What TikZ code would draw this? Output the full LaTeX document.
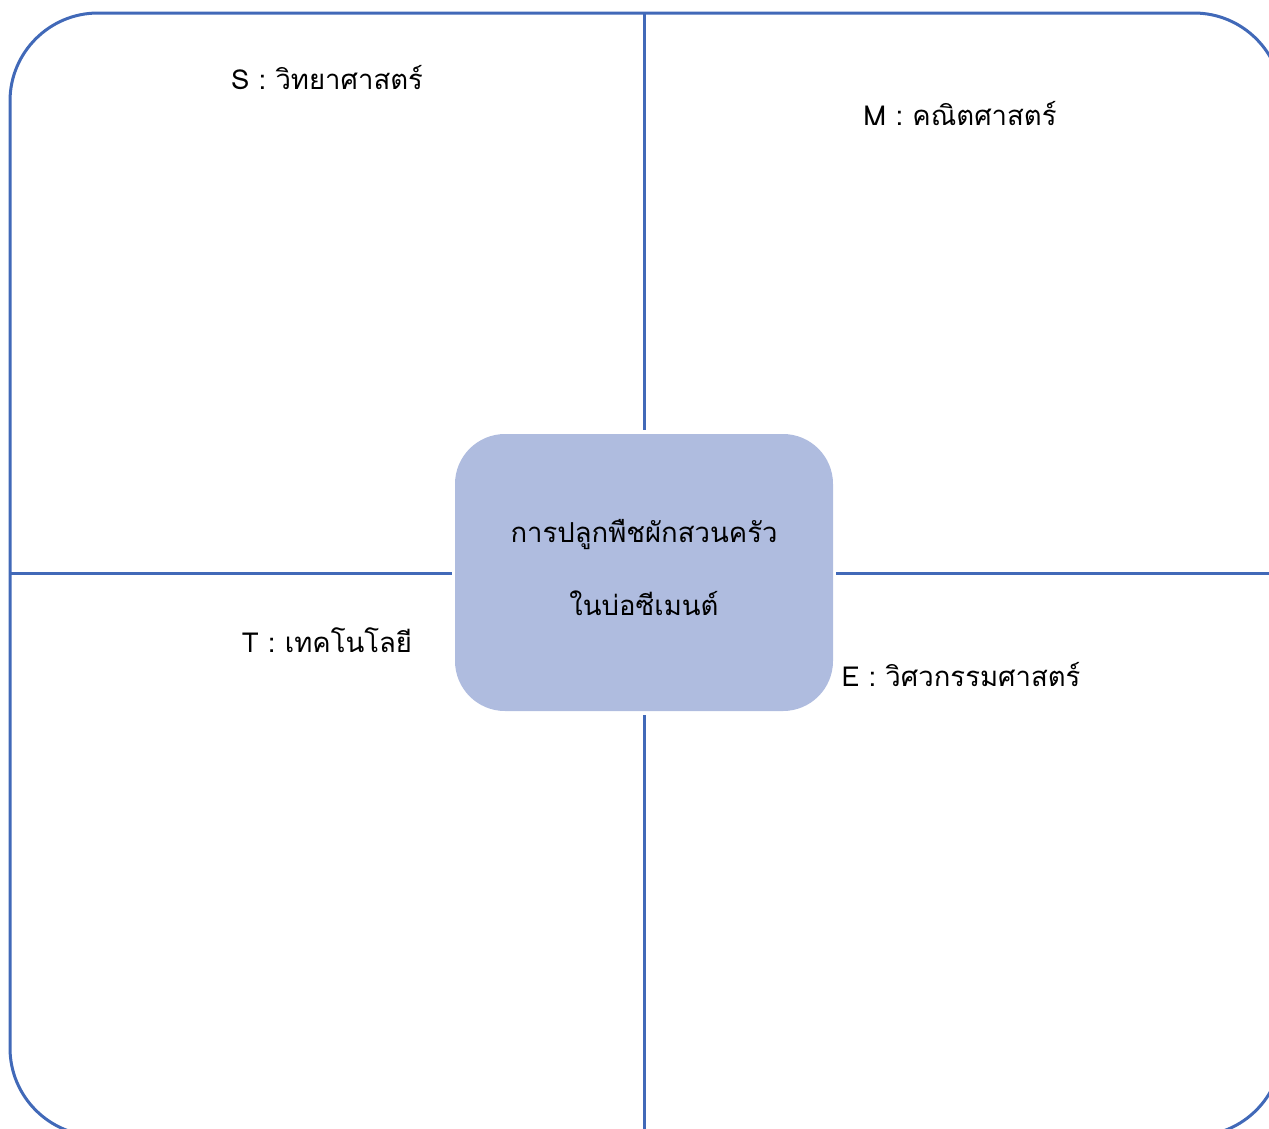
\documentclass[tikz,border=0pt]{standalone}
\usepackage{fontspec}
\setmainfont[Script=Thai]{Loma}
\definecolor{frame}{HTML}{4169B8}
\definecolor{boxfill}{HTML}{AFBCDF}
\tikzset{
  frameline/.style={draw=frame, line width=3pt},
  label/.style={font=\fontsize{27.5}{32}\selectfont, text=black, inner sep=0pt},
  centerbox/.style={fill=boxfill, draw=none, rounded corners=50pt, minimum width=378pt, minimum height=277pt, inner sep=0pt}
}
\begin{document}
\begin{tikzpicture}[x=1pt,y=-1pt]
\useasboundingbox (0,0) rectangle (1269,1128);
\clip (0,0) rectangle (1269,1128);
\draw[frameline, rounded corners=88pt] (10,13) rectangle (1282,1136);
\node[centerbox] (c) at (644,572.5) {};
\coordinate (vt) at (644,13);
\coordinate (vb) at (644,1136);
\coordinate (hl) at (10,573);
\coordinate (hr) at (1282,573);
\coordinate (ct) at (644,430);
\coordinate (cb) at (644,715);
\coordinate (cl) at (452,573);
\coordinate (cr) at (836,573);
\draw[frameline] (vt) -- (ct);
\draw[frameline] (cb) -- (vb);
\draw[frameline] (hl) -- (cl);
\draw[frameline] (cr) -- (hr);
\node[label] (s) at (327,78) {S : วิทยาศาสตร์};
\node[label] (m) at (960,114) {M : คณิตศาสตร์};
\node[label] (t) at (327,640) {T : เทคโนโลยี};
\node[label] (e) at (961,675) {E : วิศวกรรมศาสตร์};
\node[label] (c1) at (644,535) {การปลูกพืชผักสวนครัว};
\node[label] (c2) at (644,603) {ในบ่อซีเมนต์};
\end{tikzpicture}
\end{document}
